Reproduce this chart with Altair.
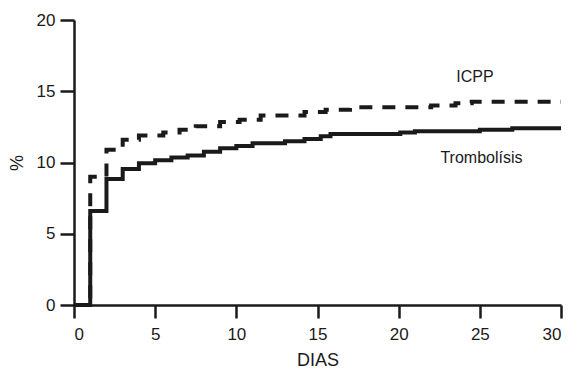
import altair as alt
import pandas as pd

# ICPP (dashed) step curve
icpp_days = [0, 1, 2, 3, 4, 5.5, 6.5, 7.5, 9, 10.2, 11.5, 14.2, 15.5, 17, 22, 23.5, 24.5, 30]
icpp_vals = [0, 9.0, 10.9, 11.6, 11.9, 12.1, 12.3, 12.55, 12.85, 13.0, 13.3, 13.55, 13.7, 13.87, 14.0, 14.15, 14.27, 14.27]

# Trombolísis (solid) step curve
trom_days = [0, 1, 2, 3, 4, 5, 6, 7, 8, 9, 10, 11, 13, 14.2, 15.2, 15.8, 20.1, 21, 25, 27, 30]
trom_vals = [0, 6.6, 8.85, 9.55, 9.95, 10.15, 10.35, 10.5, 10.75, 11.0, 11.15, 11.35, 11.5, 11.65, 11.85, 12.0, 12.1, 12.2, 12.3, 12.4, 12.4]

label_text = ["ICPP", "Trombolísis"]
label_day = [24.7, 25.1]
label_val = [16.0, 10.3]

x_ticks = [0, 5, 10, 15, 20, 25, 30]
y_ticks = [0, 5, 10, 15, 20]

FONT = "Liberation Sans"
INK = "#1a1a1a"

icpp = pd.DataFrame({"dias": icpp_days, "pct": icpp_vals})
trom = pd.DataFrame({"dias": trom_days, "pct": trom_vals})
labels = pd.DataFrame({"t": label_text, "dias": label_day, "pct": label_val})

xs = alt.Scale(domain=[0, 30], nice=False)
ys = alt.Scale(domain=[0, 20], nice=False)

xax = alt.Axis(values=x_ticks, title="DIAS", grid=False, tickSize=13, tickWidth=2.5,
               domainWidth=2.5, domainColor=INK, tickColor=INK, labelColor=INK,
               titleColor=INK, labelFont=FONT, titleFont=FONT, labelFontSize=17,
               titleFontSize=18, titleFontWeight="normal", labelPadding=8, titlePadding=9)
yax = alt.Axis(values=y_ticks, title="%", grid=False, tickSize=14, tickWidth=2.5,
               domainWidth=2.5, domainColor=INK, tickColor=INK, labelColor=INK,
               titleColor=INK, labelFont=FONT, titleFont=FONT, labelFontSize=17,
               titleFontSize=18, titleFontWeight="normal", labelPadding=5, titlePadding=10)

line_icpp = alt.Chart(icpp).mark_line(interpolate="step-after", color=INK, strokeWidth=4,
                                       strokeDash=[13, 10]).encode(
    x=alt.X("dias:Q", scale=xs, axis=xax),
    y=alt.Y("pct:Q", scale=ys, axis=yax),
)
line_trom = alt.Chart(trom).mark_line(interpolate="step-after", color=INK, strokeWidth=4).encode(
    x=alt.X("dias:Q", scale=xs),
    y=alt.Y("pct:Q", scale=ys),
)
text = alt.Chart(labels).mark_text(font=FONT, fontSize=16, color=INK).encode(
    x=alt.X("dias:Q", scale=xs),
    y=alt.Y("pct:Q", scale=ys),
    text="t:N",
)

chart = alt.layer(line_trom, line_icpp, text).properties(
    width=487, height=285,
    autosize=alt.AutoSizeParams(type="none"),
    padding={"left": 66, "top": 12, "right": 5, "bottom": 66},
).configure_view(stroke=None)

chart.save("out.html", embed_options={"renderer": "svg", "actions": False})
